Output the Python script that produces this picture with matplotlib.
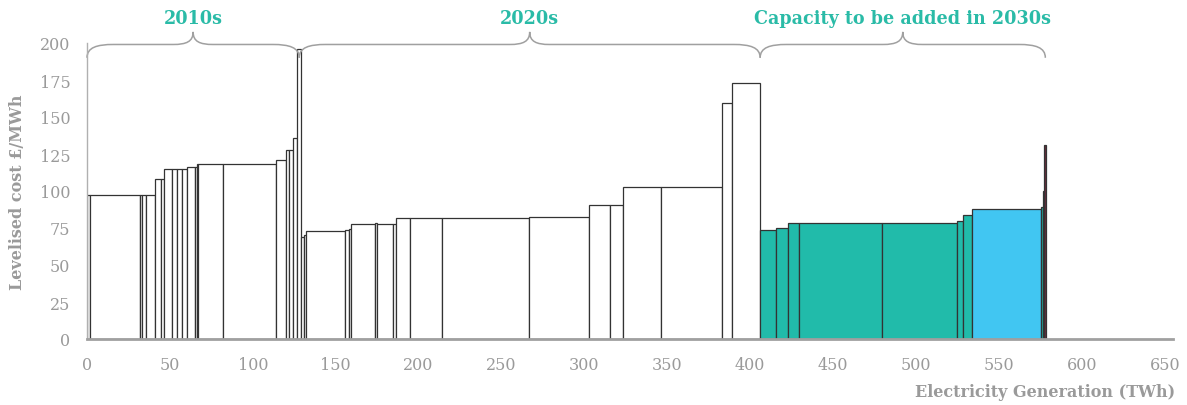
import numpy as np
import matplotlib.pyplot as plt
from matplotlib.path import Path
from matplotlib.patches import PathPatch

# bar boundaries along cumulative generation (TWh) and levelised cost (GBP/MWh)
edges = [0, 1.8, 32, 33, 35.4, 41, 44.4, 46.6, 51.1, 54.1, 57.1, 60.1, 65.1, 66.3,
         67.1, 82.2, 114.2, 120.2, 122, 124.2, 126.8, 129.2, 130.8, 132, 155.6, 158.2,
         159.5, 173.6, 175, 184.3, 186.3, 194.8, 213.9, 266.7, 302.7, 315.7, 323,
         346.1, 382.9, 389.3, 406.1, 415.4, 422.9, 429.3, 479.5, 524.7, 528.4, 534,
         575.2, 576.3, 577.3, 578.3]
costs = [97, 97, 97, 97, 97, 108, 108, 115, 115, 115, 115, 116, 116, 118,
         118, 118, 121, 128, 128, 136, 196, 69, 70, 72.7, 73.6, 74.5,
         77.7, 78.6, 77.7, 77.7, 81.5, 81.5, 81.5, 82.6, 90.8, 90.8, 102.9,
         102.9, 159.2, 173.2, 73.6, 74.8, 78.6, 78.6, 78.6, 79.5, 83.5, 87.6,
         88.9, 100.2, 131.3]
# w = existing white, t = teal 2030s, b = light blue, m = maroon
groups = ['w'] * 40 + ['t'] * 7 + ['b', 't', 'm', 'm']

colour_map = {'w': 'white', 't': '#21BBAA', 'b': '#41C6F2', 'm': '#6B2A3C'}

decades = ['2010s', '2020s', 'Capacity to be added in 2030s']
brace_start = [0, 128, 406]
brace_end = [128, 406, 578]
brace_peak = [64, 267, 492]

teal = '#2ABBA7'
grey = '#9a9a9a'

lefts = np.array(edges[:-1])
widths = np.diff(edges)
colours = [colour_map[g] for g in groups]

fig = plt.figure(figsize=(11.87, 4.06), dpi=100)
ax = fig.add_axes([87 / 1187, 66 / 406, 1086 / 1187, 296 / 406])

ax.bar(lefts, costs, width=widths, align='edge', color=colours,
       edgecolor='#333333', linewidth=0.9)

ax.set_xlim(0, 655)
ax.set_ylim(0, 200)
ax.set_xticks(np.arange(0, 651, 50))
ax.set_yticks(np.arange(0, 201, 25))

for s in ['top', 'right']:
    ax.spines[s].set_visible(False)
ax.spines['bottom'].set_color('#a0a0a0')
ax.spines['bottom'].set_linewidth(2)
ax.spines['left'].set_color('#b0b0b0')
ax.spines['left'].set_linewidth(1)
ax.tick_params(length=0, labelsize=11.5, labelcolor=grey, pad=12)
for lab in ax.get_xticklabels() + ax.get_yticklabels():
    lab.set_family('DejaVu Serif')

ax.set_ylabel('Levelised cost £/MWh', family='DejaVu Serif', fontsize=11.5,
              color=grey, fontweight='bold', labelpad=10)
fig.text(1175 / 1187, 1 - 393 / 406, 'Electricity Generation (TWh)',
         family='DejaVu Serif', fontsize=11.5, color=grey, fontweight='bold',
         ha='right', va='center')


def brace(x0, x1, xm, y_end=190, y_mid=199, y_top=207.5):
    verts = [(x0, y_end), (x0, y_mid - 2), (x0 + 6, y_mid), (x0 + 16, y_mid),
             (xm - 12, y_mid),
             (xm - 4, y_mid), (xm, y_mid + 2), (xm, y_top),
             (xm, y_mid + 2), (xm + 4, y_mid), (xm + 12, y_mid),
             (x1 - 16, y_mid),
             (x1 - 6, y_mid), (x1, y_mid - 2), (x1, y_end)]
    codes = [Path.MOVETO, Path.CURVE4, Path.CURVE4, Path.CURVE4, Path.LINETO,
             Path.CURVE4, Path.CURVE4, Path.CURVE4,
             Path.CURVE4, Path.CURVE4, Path.CURVE4, Path.LINETO,
             Path.CURVE4, Path.CURVE4, Path.CURVE4]
    ax.add_patch(PathPatch(Path(verts, codes), facecolor='none',
                           edgecolor='#a0a0a0', linewidth=1.1, clip_on=False))


for name, a, b, m in zip(decades, brace_start, brace_end, brace_peak):
    brace(a, b, m)
    ax.text(m, 217, name, ha='center', va='center', color=teal,
            family='DejaVu Serif', fontstretch='condensed', fontweight='bold',
            fontsize=14)

fig.savefig('out.png', dpi=100)
